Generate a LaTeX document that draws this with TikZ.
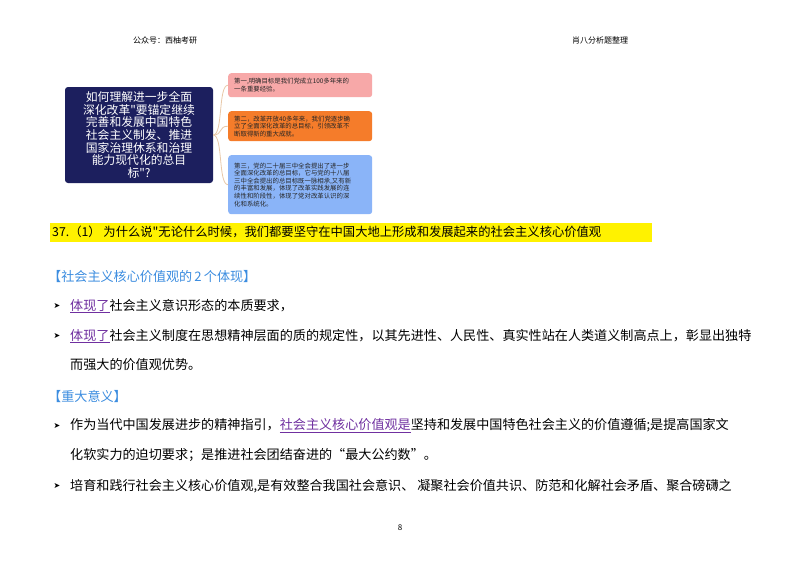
\documentclass[tikz,border=0pt]{standalone}
\usepackage{fontspec}
\newfontfamily\cjk{Noto Sans CJK SC}
\newfontfamily\cjkb{Noto Sans CJK SC Medium}
\newfontfamily\dv{DejaVu Sans}
\setmainfont{Liberation Serif}
\usetikzlibrary{shapes.geometric,calc}
\definecolor{navy}{HTML}{1C1F5E}
\definecolor{pinkb}{HTML}{F7A8A8}
\definecolor{orangeb}{HTML}{F57C2A}
\definecolor{blueb}{HTML}{8AB4F8}
\definecolor{headblue}{HTML}{3C8DE0}
\definecolor{purp}{HTML}{7030A0}
\definecolor{branch}{HTML}{E8C8A8}
\begin{document}
\begin{tikzpicture}[x=1pt,y=-1pt,
  body/.style={anchor=west,inner sep=0pt,font=\cjk\fontsize{13.1}{14}\selectfont},
  bul/.style={anchor=center,inner sep=0pt,font=\dv\fontsize{8}{9}\selectfont},
  small/.style={inner sep=0pt,font=\cjk\fontsize{8}{10}\selectfont},
  leaf/.style={rounded corners=3pt,anchor=north west,inner xsep=6pt,inner ysep=3pt,align=left,text width=132pt,font=\cjk\fontsize{6.4}{7.6}\selectfont,text=black!85}]
\useasboundingbox (0,0) rectangle (800,566);
\fill[white] (0,0) rectangle (800,566);
\node[small] (h1) at (165,40) {公众号：西柚考研};
\node[small] (h2) at (600,40) {肖八分析题整理};
% mind map
\node[fill=navy,rounded corners=3pt,minimum width=148pt,minimum height=96pt,align=center,text=white,font=\cjk\fontsize{11.8}{12.6}\selectfont] (root) at (139,135) {如何理解进一步全面\\深化改革"要锚定继续\\完善和发展中国特色\\社会主义制发、推进\\国家治理休系和治理\\能力现代化的总目\\标"?};
\node[leaf,fill=pinkb,minimum height=24pt] (b1) at (228,73) {第一,明确目标是我们党成立100多年来的\\一条重要经验。};
\node[leaf,fill=orangeb,minimum height=30pt] (b2) at (228,111) {第二，改革开放40多年来，我们党逐步确\\立了全面深化改革的总目标，引领改革不\\断取得新的重大成就。};
\node[leaf,fill=blueb,minimum height=59pt] (b3) at (228,155) {第三，党的二十届三中全会提出了进一步\\全面深化改革的总目标，它与党的十八届\\三中全会提出的总目标既一脉相承,又有新\\的丰富和发展，体现了改革实践发展的连\\续性和阶段性，体现了党对改革认识的深\\化和系统化。};
\foreach \b in {b1,b2,b3}
  \draw[branch,line width=0.8pt] (root.east) .. controls +(10,0) and ($(\b.west)+(-10,0)$) .. (\b.west);
% question line
\fill[yellow] (50,223) rectangle (652,242);
\node[body,font=\cjk\fontsize{12.3}{14}\selectfont] (q) at (52,232) {37.（1） 为什么说"无论什么时候，我们都要坚守在中国大地上形成和发展起来的社会主义核心价值观};
\node[body,text=headblue] (t1) at (48,277) {【社会主义核心价值观的\,2\,个体现】};
\node[bul] (p1) at (57,306) {➤};
\node[body] (l1) at (70,306) {\textcolor{purp}{\underline{体现了}}社会主义意识形态的本质要求，};
\node[bul] (p2) at (57,336) {➤};
\node[body] (l2) at (70,336) {\textcolor{purp}{\underline{体现了}}社会主义制度在思想精神层面的质的规定性，以其先进性、人民性、真实性站在人类道义制高点上，彰显出独特};
\node[body] (l3) at (70,365) {而强大的价值观优势。};
\node[body,text=headblue] (t2) at (48,396) {【重大意义】};
\node[bul] (p3) at (57,426) {➤};
\node[body] (l4) at (70,426) {作为当代中国发展进步的精神指引，\textcolor{purp}{\underline{社会主义核心价值观是}}坚持和发展中国特色社会主义的价值遵循;是提高国家文};
\node[body] (l5) at (70,455) {化软实力的迫切要求；是推进社会团结奋进的“最大公约数”。};
\node[bul] (p4) at (57,486) {➤};
\node[body] (l6) at (70,486) {培育和践行社会主义核心价值观,是有效整合我国社会意识、 凝聚社会价值共识、防范和化解社会矛盾、聚合磅礴之};
\node[small] (pg) at (400,528) {8};
\end{tikzpicture}
\end{document}
